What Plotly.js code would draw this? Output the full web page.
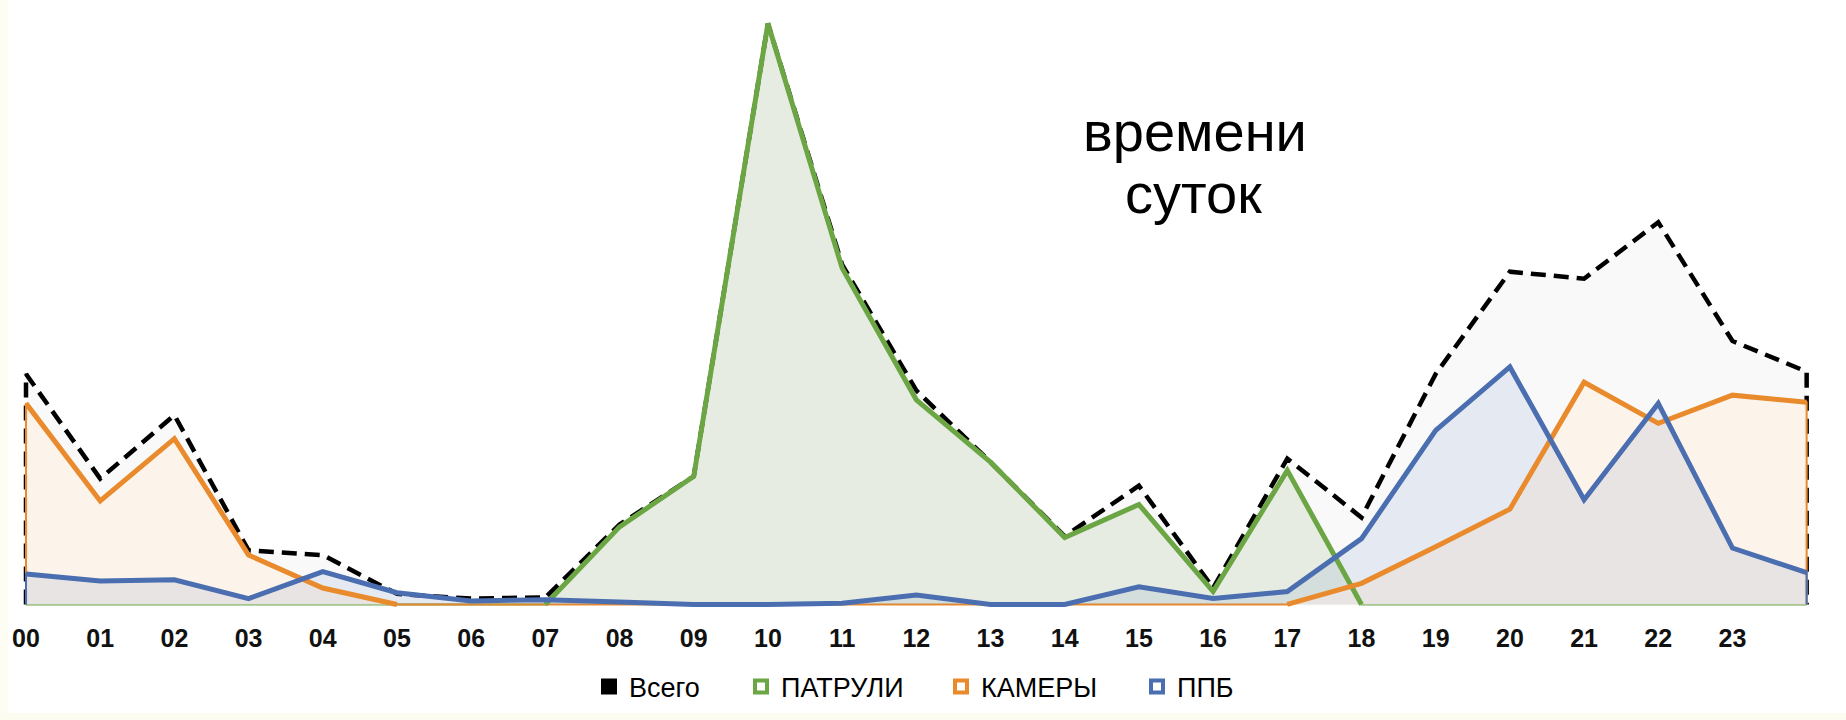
<!DOCTYPE html>
<html><head><meta charset="utf-8">
<script src="https://cdn.plot.ly/plotly-3.0.1.min.js"></script>
<style>html,body{margin:0;padding:0;background:#fff}#chart{width:1846px;height:720px}</style>
</head><body><div id="chart"></div>
<script>
// hour positions (25 points, the last one unlabeled)
const hours = [0,1,2,3,4,5,6,7,8,9,10,11,12,13,14,15,16,17,18,19,20,21,22,23,24];
const hourLabels = ['00','01','02','03','04','05','06','07','08','09','10','11','12','13','14','15','16','17','18','19','20','21','22','23'];
const hourTicks = [0,1,2,3,4,5,6,7,8,9,10,11,12,13,14,15,16,17,18,19,20,21,22,23];

const seriesNames = ['Всего','ПАТРУЛИ','КАМЕРЫ','ППБ'];
const total   = [196,107,161,46,42,9,5,6,68,109,494,289,182,121,58,101,14,124,74,196,283,277,325,224,198];
const patrol  = [0,0,0,0,0,0,0,0,66,109,494,286,174,121,57,85,11,114,0,0,0,0,0,0,0];
const cameras = [171,88,141,42,14,0,0,0,0,0,0,0,0,0,0,0,0,0,18,49,81,189,154,178,172];
const ppb     = [26,20,21,5,28,10,3,4,2,0,0,1,8,0,0,15,5,11,56,148,202,89,171,48,27];

const titleLines = ['времени','суток'];

const GREEN = '#6CA644', ORANGE = '#E98A2C', BLUE = '#4A6EAF';
const FONT = 'Liberation Sans, Arial, sans-serif';

function closed(vals){
  return {x: [hours[0]].concat(hours, [hours[hours.length-1]]), y: [0].concat(vals, [0])};
}
// hide runs of zeros lying on the baseline (line only drawn where the series is present)
function trimZeros(vals){
  return vals.map((v,i)=> (v===0 && (i===0||vals[i-1]===0) && (i===vals.length-1||vals[i+1]===0)) ? null : v);
}
function fillTrace(vals, fillcolor, linecolor){
  const c = closed(vals);
  return {x:c.x, y:c.y, type:'scatter', mode:'lines', fill:'toself', fillcolor:fillcolor,
          line:{color:linecolor, width:2}, showlegend:false, hoverinfo:'skip'};
}
function lineTrace(vals, color, width){
  return {x:hours, y:vals, type:'scatter', mode:'lines', line:{color:color, width:width}, connectgaps:false, showlegend:false, hoverinfo:'skip'};
}
function legendTrace(name, legend, color, fill){
  return {x:[null], y:[null], type:'scatter', mode:'markers', name:name, legend:legend, showlegend:true,
          marker:{symbol:'square', size:12, color:fill, line:{color:color, width:4}}};
}

const tc = closed(total);
const traces = [
  {x:tc.x, y:tc.y, type:'scatter', mode:'lines', fill:'toself', fillcolor:'#f9f9fa', line:{width:0}, showlegend:false, hoverinfo:'skip'},
  {x:tc.x, y:tc.y, type:'scatter', mode:'lines', line:{color:'#000', width:4.5, dash:'15px,8px'}, showlegend:false, hoverinfo:'skip'},
  fillTrace(patrol, 'rgba(120,160,95,0.15)', GREEN),
  fillTrace(cameras, 'rgba(252,242,234,0.96)', ORANGE),
  fillTrace(ppb, 'rgba(74,110,175,0.11)', BLUE),
  lineTrace(trimZeros(patrol), GREEN, 5),
  lineTrace(trimZeros(cameras), ORANGE, 5),
  lineTrace(ppb, BLUE, 5),
  legendTrace(seriesNames[0], 'legend', '#000', '#000'),
  legendTrace(seriesNames[1], 'legend2', GREEN, '#fff'),
  legendTrace(seriesNames[2], 'legend3', ORANGE, '#fff'),
  legendTrace(seriesNames[3], 'legend4', BLUE, '#fff')
];

function legendAt(px){
  return {orientation:'h', xref:'container', yref:'container', x:px/1846, y:1-687/720,
          xanchor:'left', yanchor:'middle', bgcolor:'rgba(0,0,0,0)', borderwidth:0,
          font:{family:FONT, size:27, color:'#000'}, itemwidth:30};
}

const layout = {
  width:1846, height:720,
  margin:{l:0, r:13, t:0, b:112},
  paper_bgcolor:'#ffffff', plot_bgcolor:'rgba(0,0,0,0)',
  xaxis:{range:[-0.3504, 24.355], tickvals:hourTicks, ticktext:hourLabels, showgrid:false, zeroline:false,
         showline:false, ticks:'', ticklabelstandoff:13, fixedrange:true,
         tickfont:{family:FONT, size:25, color:'#111', weight:'bold'}},
  yaxis:{range:[-3, 514], visible:false, showgrid:false, zeroline:false, fixedrange:true},
  legend:legendAt(589), legend2:legendAt(741), legend3:legendAt(941), legend4:legendAt(1137),
  annotations:[
    {text:titleLines[0], xref:'paper', yref:'paper', x:1195/1833, y:1-131/608, xanchor:'center', yanchor:'middle', showarrow:false,
     font:{family:FONT, size:56, color:'#000'}},
    {text:titleLines[1], xref:'paper', yref:'paper', x:1193/1833, y:1-194/608, xanchor:'center', yanchor:'middle', showarrow:false,
     font:{family:FONT, size:56, color:'#000'}}
  ],
  shapes:[
    {type:'rect', xref:'paper', yref:'paper', x0:0, x1:8/1833, y0:-112/608, y1:1, fillcolor:'#fdfdf4', line:{width:0}, layer:'below'},
    {type:'rect', xref:'paper', yref:'paper', x0:0, x1:1846/1833, y0:-112/608, y1:-105/608, fillcolor:'#fcfcf0', line:{width:0}, layer:'below'}
  ],
  showlegend:true
};

Plotly.newPlot('chart', traces, layout, {displayModeBar:false, staticPlot:true});
</script></body></html>
